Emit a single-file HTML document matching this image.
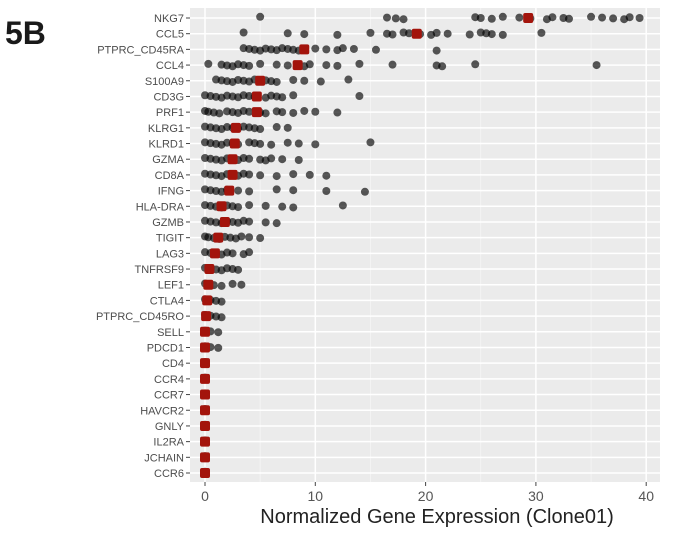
<!DOCTYPE html>
<html><head><meta charset="utf-8"><style>
body{margin:0;background:#fff;width:700px;height:535px;overflow:hidden;font-family:"Liberation Sans",sans-serif}
</style></head><body>
<svg width="700" height="535" xmlns="http://www.w3.org/2000/svg" id="s">
<text x="5" y="44" font-size="32" font-weight="bold" fill="#1a1a1a">5B</text>
<rect x="190" y="8" width="470" height="474" fill="#ebebeb"/>
<g id="g"></g>
<text x="437" y="523" font-size="20" fill="#222" text-anchor="middle">Normalized Gene Expression (Clone01)</text>
</svg>
<script>
var x0=205,k=11.03,y0=18,st=15.69;
var rows=[
["NKG7",29.3,[5,16.5,17.3,18,24.5,25,26,27,28.5,29.5,31,31.5,32.5,33,35,36,37,38,38.5,39.4]],
["CCL5",19.2,[3.5,7.5,9,12,15,16.5,17,18,18.5,19.5,20.5,21,22,24,25,25.5,26,27,30.5]],
["PTPRC_CD45RA",9,[3.5,4,4.5,5,5.5,6,6.5,7,7.5,8,8.5,10,11,12,12.5,13.5,15.5,21]],
["CCL4",8.4,[0.3,1.5,2,2.5,3,3.5,4,5,6.5,7.5,9,9.5,11,12,14,17,21,21.5,24.5,35.5]],
["S100A9",5,[1,1.5,2,2.5,3,3.5,4,4.5,5.5,6,6.5,8,9,10.5,13]],
["CD3G",4.7,[0,0.5,1,1.5,2,2.5,3,3.5,4,4.5,5.5,6,6.5,7,8,14]],
["PRF1",4.7,[0,0.3,0.8,1.3,2,2.5,3,3.5,4,5,5.5,6.5,7,8,9,10,12]],
["KLRG1",2.8,[0,0.5,1,1.5,2,2.5,3,3.5,4,4.5,5,6.5,7.5]],
["KLRD1",2.7,[0,0.5,1,1.5,2,2.5,3,4,4.5,5,6,7.5,8.5,10,15]],
["GZMA",2.5,[0,0.5,1,1.5,2,2.5,3,3.5,4,5,5.5,6,7,8.5]],
["CD8A",2.5,[0,0.5,1,1.5,2,2.5,3,3.5,4,5,6.5,8,9.5,11]],
["IFNG",2.2,[0,0.5,1,1.5,2,3,4,6.5,8,11,14.5]],
["HLA-DRA",1.5,[0,0.5,1,1.5,2,2.5,3,4,5.5,7,8,12.5]],
["GZMB",1.8,[0,0.5,1,1.5,2,2.5,3,3.5,4,5.5,6.5]],
["TIGIT",1.2,[0,0.3,0.8,1.3,1.8,2.3,2.8,3.3,4,5]],
["LAG3",0.9,[0,0.5,1,1.5,2,2.5,3.5,4]],
["TNFRSF9",0.4,[0,0.5,1,1.5,2,2.5,3]],
["LEF1",0.3,[0,0.3,0.8,1.5,2.5,3.3]],
["CTLA4",0.2,[0,0.5,1,1.5]],
["PTPRC_CD45RO",0.1,[0,0.5,1,1.5]],
["SELL",0,[0,0.5,1.2]],
["PDCD1",0,[0,0.5,1.2]],
["CD4",0,[0]],["CCR4",0,[0]],["CCR7",0,[0]],["HAVCR2",0,[0]],["GNLY",0,[0]],["IL2RA",0,[0]],["JCHAIN",0,[0]],["CCR6",0,[0]]];
var h="";
for(var v=5;v<=40;v+=10){var x=x0+v*k;h+='<line x1="'+x+'" x2="'+x+'" y1="8" y2="482" stroke="#f7f7f7" stroke-width="0.7"/>';}
for(var v=0;v<=40;v+=10){var x=x0+v*k;h+='<line x1="'+x+'" x2="'+x+'" y1="8" y2="482" stroke="#fff" stroke-width="1.5"/><line x1="'+x+'" x2="'+x+'" y1="482" y2="486" stroke="#444"/><text x="'+x+'" y="501" font-size="14" fill="#555" text-anchor="middle">'+v+'</text>';}
rows.forEach(function(r,i){var y=y0+i*st;
h+='<line x1="190" x2="660" y1="'+y+'" y2="'+y+'" stroke="#fff" stroke-width="1.5"/><line x1="186" x2="190" y1="'+y+'" y2="'+y+'" stroke="#444"/><text x="184" y="'+(y+4)+'" font-size="11" fill="#4d4d4d" text-anchor="end">'+r[0]+'</text>';});
rows.forEach(function(r,i){var y=y0+i*st;
r[2].forEach(function(v,j){var dy=((j*37)%7-3)*0.4;h+='<circle cx="'+(x0+v*k)+'" cy="'+(y+dy)+'" r="4" fill="#000" fill-opacity="0.65"/>';});
h+='<rect x="'+(x0+r[1]*k-5)+'" y="'+(y-5)+'" width="10" height="10" rx="2" fill="#a3140c"/>';});
document.getElementById("g").innerHTML=h;
</script>
</body></html>
